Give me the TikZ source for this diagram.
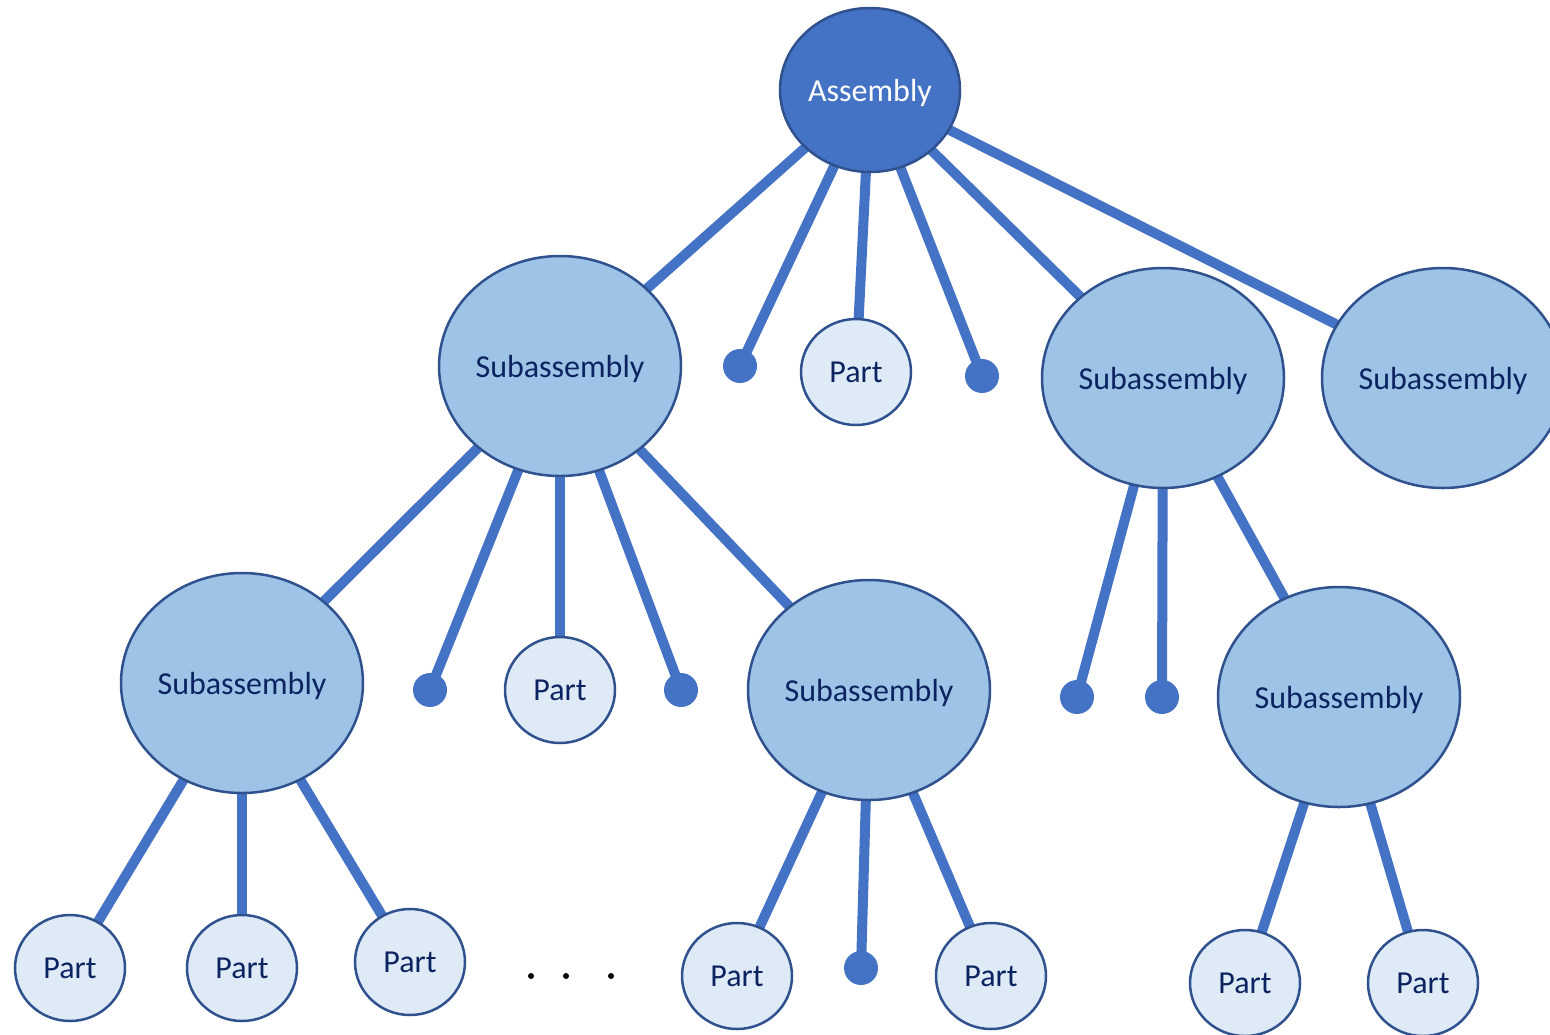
\documentclass[tikz,border=0pt]{standalone}
\usepackage{fontspec}
\setmainfont{Carlito}
\usetikzlibrary{shapes.geometric,backgrounds}
\definecolor{linkblue}{HTML}{4472C4}
\definecolor{edgeblue}{HTML}{2F528F}
\definecolor{subfill}{HTML}{9DC3E6}
\definecolor{partfill}{HTML}{DEEBF7}
\definecolor{labelnavy}{HTML}{0B2461}

\begin{document}
\begin{tikzpicture}[x=1pt,y=-1pt,
  lbl/.style={font=\fontsize{32}{38}\selectfont, text depth=0pt},
  asm/.style={ellipse, draw=edgeblue, line width=2.5pt, fill=linkblue,
    minimum width=180pt, minimum height=164pt, inner sep=0pt, text=white, lbl},
  sub/.style={ellipse, draw=edgeblue, line width=2.5pt, fill=subfill,
    minimum width=242pt, minimum height=220pt, inner sep=0pt, text=labelnavy, lbl},
  part/.style={ellipse, draw=edgeblue, line width=2.5pt, fill=partfill,
    minimum width=110pt, minimum height=106pt, inner sep=0pt, text=labelnavy, lbl},
  leaf/.style={circle, fill=linkblue, minimum size=34pt, inner sep=0pt},
  link/.style={draw=linkblue, line width=10pt},
  ellip/.style={circle, fill=black, minimum size=6pt, inner sep=0pt}
]
\useasboundingbox (0,0) rectangle (1550,1034);

% top level
\node[asm] (A) at (870,90) {Assembly};

% second level
\node[sub]  (S1) at (560,366) {Subassembly};
\node[leaf] (d1) at (740,366) {};
\node[part] (P1) at (856,372) {Part};
\node[leaf] (d2) at (982,376) {};
\node[sub]  (S2) at (1163,378) {Subassembly};
\node[sub]  (S3) at (1443,378) {Subassembly};

% third level
\node[sub]  (S11) at (242,683) {Subassembly};
\node[leaf] (d3)  at (430,690) {};
\node[part] (P2)  at (560,690) {Part};
\node[leaf] (d4)  at (681,690) {};
\node[sub]  (S12) at (869,690) {Subassembly};
\node[leaf] (d5)  at (1077,697) {};
\node[leaf] (d6)  at (1162,697) {};
\node[sub]  (S21) at (1339,697) {Subassembly};

% bottom level
\node[part] (P3) at (70,968) {Part};
\node[part] (P4) at (242,968) {Part};
\node[part] (P5) at (410,962) {Part};
\node[ellip] (e1) at (531,976) {};
\node[ellip] (e2) at (566,976) {};
\node[ellip] (e3) at (611,976) {};
\node[part] (P6) at (737,976) {Part};
\node[leaf] (d7) at (861,968) {};
\node[part] (P7) at (991,976) {Part};
\node[part] (P8) at (1245,983) {Part};
\node[part] (P9) at (1423,983) {Part};

% connectors, kept underneath the nodes
\begin{scope}[on background layer]
  \foreach \a/\b in {A/S1, A/d1, A/P1, A/d2, A/S2, A/S3,
                     S1/S11, S1/d3, S1/P2, S1/d4, S1/S12,
                     S2/d5, S2/d6, S2/S21,
                     S11/P3, S11/P4, S11/P5,
                     S12/P6, S12/d7, S12/P7,
                     S21/P8, S21/P9}
    \draw[link] (\a.center) -- (\b.center);
\end{scope}
\end{tikzpicture}
\end{document}
